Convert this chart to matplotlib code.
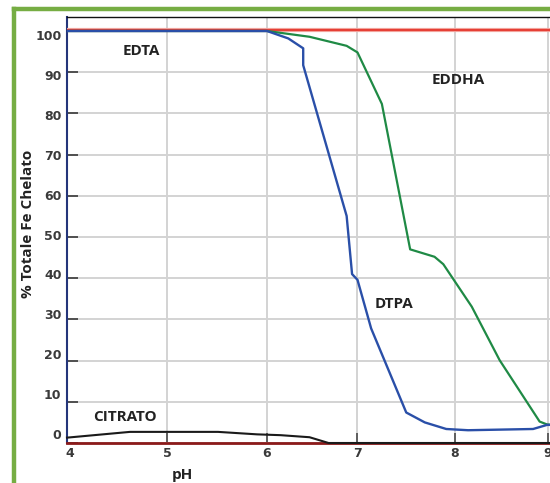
import numpy as np
import matplotlib
matplotlib.use("Agg")
import matplotlib.pyplot as plt
from matplotlib.lines import Line2D
from matplotlib.transforms import ScaledTranslation

# ---- data ----
ph_edta = [4.0, 9.6]
edta = [100.3, 100.3]

ph_eddha = [4.0, 6.0, 6.47, 6.88, 7.0, 7.25, 7.54, 7.79, 7.88, 8.18, 8.48, 8.91, 8.99, 9.1]
eddha = [100, 100, 98.6, 96.4, 94.8, 82.3, 47.0, 45.2, 43.4, 33.1, 20.1, 5.2, 4.5, 4.3]

ph_dtpa = [4.0, 6.0, 6.235, 6.40, 6.40, 6.88, 6.94, 7.0, 7.14, 7.5, 7.69, 7.91, 8.14, 8.84, 8.99, 9.1]
dtpa = [100, 100, 98.2, 95.8, 91.7, 55.1, 41.0, 39.6, 27.8, 7.4, 5.0, 3.4, 3.1, 3.4, 4.4, 4.4]

ph_citrato = [4.0, 4.63, 5.51, 5.9, 6.15, 6.47, 6.68, 9.6]
citrato = [1.3, 2.7, 2.7, 2.1, 1.9, 1.4, 0.0, 0.0]

x_ticks = [4, 5, 6, 7, 8, 9]
y_ticks = [0, 10, 20, 30, 40, 50, 60, 70, 80, 90, 100]

labels = ["EDTA", "EDDHA", "DTPA", "CITRATO"]

# ---- non-uniform x scale (grid spacing in the original is uneven) ----
_kd = np.array([3.0, 4.0, 5.0, 6.0, 7.0, 8.0, 9.0, 10.0])
_kp = np.array([-33.0, 67.0, 167.0, 267.0, 357.5, 455.0, 548.0, 641.0])

def fwd(x):
    return np.interp(x, _kd, _kp)

def inv(p):
    return np.interp(p, _kp, _kd)

W, H = 550, 483
fig = plt.figure(figsize=(W / 100, H / 100), dpi=100)

x0, x1 = 4.0, 9.6
left_px, top_px, bot_px = 67.0, 17.0, 443.0
right_px = fwd(x1)
ymax = 103.4
ax = fig.add_axes([left_px / W, (H - bot_px) / H, (right_px - left_px) / W, (bot_px - top_px) / H])
ax.set_xscale('function', functions=(fwd, inv))
ax.set_xlim(x0, x1)
ax.set_ylim(0, ymax)

ax.set_xticks(x_ticks)
ax.set_yticks(y_ticks)
ax.grid(True, color='#d3d3d3', lw=1.4, zorder=0)
ax.set_axisbelow(True)

lab_font = dict(family='DejaVu Sans', weight='bold', size=9, color='#3a3a3a')
ax.set_xticklabels([str(t) for t in x_ticks], fontdict=lab_font)
ax.set_yticklabels([str(t) for t in y_ticks], fontdict=lab_font)
ax.tick_params(axis='y', direction='in', length=8, width=1.3, color='#444444', pad=4)
ax.tick_params(axis='x', direction='in', length=7, width=1.3, color='#555555', pad=3)

# the printed y labels drift slightly relative to their ticks in the original
for lab, v in zip(ax.get_yticklabels(), y_ticks):
    off_px = 4.0 - (100 - v) * 0.13          # downward offset in pixels
    lab.set_transform(lab.get_transform() + ScaledTranslation(0, -off_px / 100, fig.dpi_scale_trans))
for lab, v in zip(ax.get_xticklabels(), x_ticks):
    if v == 4:
        lab.set_transform(lab.get_transform() + ScaledTranslation(3 / 100, 0, fig.dpi_scale_trans))

ax.spines['top'].set_color('#111111')
ax.spines['top'].set_linewidth(1.0)
ax.spines['left'].set_color('#24357a')
ax.spines['left'].set_linewidth(1.5)
ax.spines['right'].set_visible(False)
ax.spines['bottom'].set_color('#8b1a1a')
ax.spines['bottom'].set_linewidth(2.0)

ax.plot(ph_edta, edta, color='#f2a39c', lw=3.0, zorder=3, solid_capstyle='butt')
ax.plot(ph_edta, edta, color='#e5352c', lw=1.3, zorder=3)
ax.plot(ph_eddha, eddha, color='#1f8a45', lw=1.6, zorder=4)
ax.plot(ph_dtpa, dtpa, color='#2a4fa8', lw=1.7, zorder=5)
ax.plot(ph_citrato, citrato, color='#1a1a1a', lw=1.5, zorder=4, clip_on=False)

ann_font = dict(family='Open Sans', weight='bold', size=11, color='#222222', ha='center', va='center')
ax.text(4.74, 95.2, labels[0], **ann_font)
ax.text(8.04, 88.0, labels[1], **ann_font)
ax.text(7.37, 33.8, labels[2], **ann_font)
ax.text(4.58, 6.3, labels[3], **ann_font)

fig.text(28 / W, 1 - 224 / H, "% Totale Fe Chelato", rotation=90, ha='center', va='center',
         family='Open Sans', weight='bold', size=11, color='#222222')
fig.text(182 / W, 1 - 475 / H, "pH", ha='center', va='center',
         family='Open Sans', weight='bold', size=11, color='#222222')

# green frame
fig.add_artist(Line2D([14 / W, 14 / W], [0, 1 - 9 / H], color='#76ad43', lw=3.2,
                      transform=fig.transFigure, solid_capstyle='projecting'))
fig.add_artist(Line2D([14 / W, 1.0], [1 - 9 / H, 1 - 9 / H], color='#76ad43', lw=3.2,
                      transform=fig.transFigure, solid_capstyle='projecting'))

fig.savefig('out.png', dpi=100)
